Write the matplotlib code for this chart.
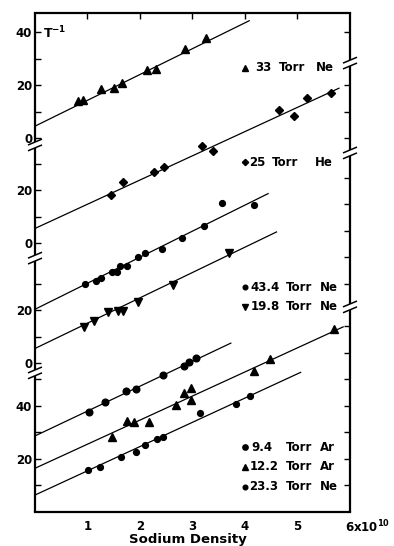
import matplotlib.pyplot as plt
import numpy as np

# sodium density (units of 1e10) and T^-1 (panel units)
ne33_x = [0.81, 0.91, 1.26, 1.51, 1.65, 2.14, 2.31, 2.86, 3.26]
ne33_y = [14.1, 14.3, 18.4, 18.8, 20.6, 25.7, 25.9, 33.5, 37.6]

he25_x = [1.45, 1.68, 2.27, 2.46, 3.19, 3.39, 4.65, 4.94, 5.19, 5.64]
he25_y = [18.1, 22.9, 26.9, 28.8, 36.6, 34.8, 50.2, 47.9, 54.6, 56.7]

ne434_x = [0.95, 1.16, 1.26, 1.46, 1.56, 1.62, 1.75, 1.97, 2.10, 2.41, 2.80, 3.22, 3.56, 4.17]
ne434_y = [29.9, 30.9, 32.0, 34.5, 34.2, 36.7, 36.6, 40.1, 41.4, 43.1, 47.3, 51.7, 60.3, 59.6]

ne198_x = [0.93, 1.13, 1.39, 1.58, 1.67, 1.97, 2.63, 3.69]
ne198_y = [13.7, 15.8, 19.1, 19.6, 19.6, 22.9, 29.4, 41.4]

ar94_x = [1.02, 1.33, 1.74, 1.92, 2.44, 2.83, 2.93, 3.06]
ar94_y = [37.8, 41.4, 45.8, 46.5, 51.6, 55.1, 56.6, 58.0]

ar122_x = [1.47, 1.75, 1.89, 2.17, 2.69, 2.84, 2.98, 2.98, 4.18, 4.47, 5.70]
ar122_y = [28.2, 34.3, 33.8, 34.1, 40.3, 44.9, 46.8, 42.3, 53.3, 57.6, 68.9]

ne233_x = [1.00, 1.24, 1.64, 1.93, 2.09, 2.32, 2.44, 3.14, 3.82, 4.09]
ne233_y = [15.7, 17.1, 20.9, 22.8, 25.3, 27.7, 28.4, 37.2, 40.6, 43.8]

# straight-line fits as drawn: intercept, slope, last x
fit_intercept = [4.5, 5.5, 20.3, 5.5, 28.7, 16.5, 6.4]
fit_slope = [9.75, 9.14, 9.83, 9.56, 9.39, 9.09, 9.15]
fit_end = [4.08, 5.79, 4.44, 4.60, 3.73, 5.87, 5.06]

pressures = ["33", "25", "43.4", "19.8", "9.4", "12.2", "23.3"]
gases = ["Ne", "He", "Ne", "Ne", "Ar", "Ar", "Ne"]

xs = [ne33_x, he25_x, ne434_x, ne198_x, ar94_x, ar122_x, ne233_x]
ys = [ne33_y, he25_y, ne434_y, ne198_y, ar94_y, ar122_y, ne233_y]

# layout: vertical offset of each stacked panel, marker styles, label spots
offset_a, offset_b, offset_c, offset_d = 141.1, 101.5, 56.2, 0.0
offsets = [offset_a, offset_b, offset_c, offset_c, offset_d, offset_d, offset_d]
markers = ["^", "D", "o", "v", "o", "^", "o"]
msizes = [5.2, 4.0, 4.2, 5.2, 4.8, 5.2, 4.2]
label_y = [167.7, 132.0, 84.8, 77.5, 24.4, 17.1, 9.5]
num_x = [4.20, 4.07, 4.10, 4.10, 4.13, 4.08, 4.08]
torr_x = [4.65, 4.51, 4.78, 4.78, 4.78, 4.78, 4.78]
gas_x = [5.35, 5.33, 5.43, 5.43, 5.43, 5.43, 5.43]

plt.rcParams["font.family"] = "DejaVu Sans"
plt.rcParams["font.weight"] = "bold"
plt.rcParams["mathtext.default"] = "bf"

fig = plt.figure(figsize=(3.94, 5.46), dpi=100)
ax = fig.add_axes([35 / 394, 34 / 546, 315 / 394, 499 / 546])
ymax = 188.3
ax.set_xlim(0, 6)
ax.set_ylim(0, ymax)

for i in range(len(xs)):
    off = offsets[i]
    ax.plot(xs[i], np.array(ys[i]) + off, linestyle="none", marker=markers[i],
            markersize=msizes[i], color="black", clip_on=False)
    fx = np.array([0.0, fit_end[i]])
    ax.plot(fx, fit_intercept[i] + fit_slope[i] * fx + off, color="black", lw=0.9)
    # label
    ax.plot([4.0], [label_y[i]], marker=markers[i], markersize=msizes[i] * 0.8,
            color="black", linestyle="none")
    for tx, txt in [(num_x[i], pressures[i]), (torr_x[i], "Torr"), (gas_x[i], gases[i])]:
        ax.text(tx, label_y[i], txt, fontsize=8.5, fontweight="bold", ha="left", va="center")

# left axis ticks (each panel keeps its own zero)
left_pos, left_lab = [], []
for off, vals, labs in [
    (offset_d, [10, 20, 30, 40, 50], [20, 40]),
    (offset_c, [0, 10, 20, 30], [0, 20]),
    (offset_b, [0, 10, 20, 30], [0, 20]),
    (offset_a, [0, 10, 20, 30, 40], [0, 20, 40]),
]:
    for v in vals:
        left_pos.append(off + v)
        left_lab.append(str(v) if v in labs else "")
ax.set_yticks(left_pos)
ax.set_yticklabels(left_lab, fontsize=8.5, fontweight="bold")
ax.tick_params(axis="y", direction="in", length=4, width=1, pad=2)

ax.set_xticks([1, 2, 3, 4, 5])
ax.set_xticklabels(["1", "2", "3", "4", "5"], fontsize=8.5, fontweight="bold")
ax.tick_params(axis="x", length=0, pad=6)
ax.text(5.9, -2.5, "6x10$^{10}$", fontsize=8.5, ha="left", va="top")

top = ax.secondary_xaxis("top")
top.set_xticks([1, 2, 3, 4, 5])
top.tick_params(direction="in", length=4, width=1, labeltop=False)
top.spines["top"].set_linewidth(1.6)

right_pos = []
for off, vals in [(offset_d, [10, 20, 30, 40, 50, 60, 70]),
                  (offset_c, [30, 40, 50, 60, 70]),
                  (offset_a, [0, 10, 20, 40])]:
    right_pos += [off + v for v in vals]
ax2 = ax.twinx()
ax2.set_ylim(0, ymax)
ax2.set_yticks(right_pos)
ax2.tick_params(direction="in", length=4, width=1, labelright=False)
for s in ax2.spines.values():
    s.set_visible(False)

for name in ["left", "right", "top"]:
    ax.spines[name].set_visible(False)
ax.spines["bottom"].set_linewidth(1.6)


def broken_spine(xpos, breaks):
    trans = ax.get_yaxis_transform()
    gap = 1.1
    edges = [0] + breaks + [ymax]
    for j in range(len(edges) - 1):
        lo = edges[j] + (gap if j > 0 else 0)
        hi = edges[j + 1] - (gap if j < len(edges) - 2 else 0)
        ax.plot([xpos, xpos], [lo, hi], color="black", lw=1.6, transform=trans,
                clip_on=False, solid_capstyle="butt")
    for b in breaks:
        for d in (-gap, gap):
            ax.plot([xpos - 0.02, xpos + 0.02], [b + d - 1.0, b + d + 1.0],
                    color="black", lw=1.1, transform=trans, clip_on=False)


broken_spine(0, [52.5, 95.8, 138.5])
broken_spine(1, [77.4, 135.5, 169.4])

ax.text(0.15, 180.8, "T$^{-1}$", fontsize=9, ha="left", va="center")
fig.text(188 / 394, 1 - 539 / 546, "Sodium Density", fontsize=9.5,
         fontweight="bold", ha="center", va="center")

fig.savefig("out.png", dpi=100)
